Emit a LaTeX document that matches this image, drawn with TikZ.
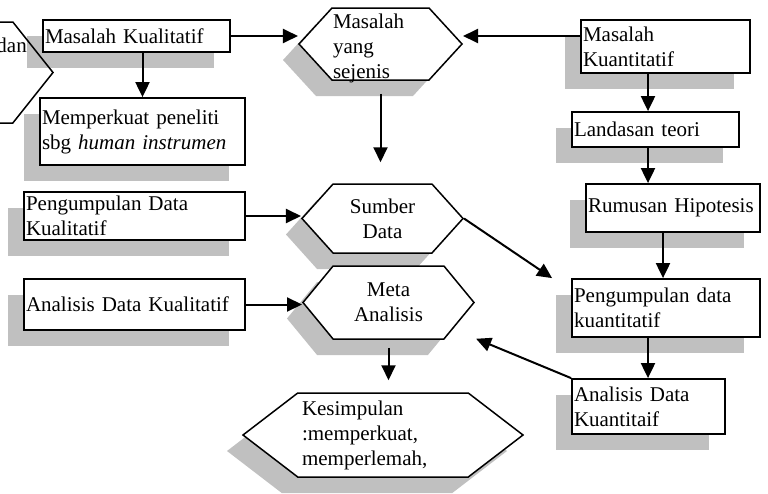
\documentclass[tikz,border=0pt]{standalone}
\usepackage{fontspec}
\setmainfont{Liberation Serif}
\usetikzlibrary{arrows.meta,shapes.symbols,shadows}
\definecolor{shadowgray}{RGB}{192,192,192}
\newcommand{\bodyfont}{\fontsize{21}{25}\selectfont}
\tikzset{
  boxshadow/.style = {general shadow={fill=shadowgray, shadow xshift=-16pt, shadow yshift=-16pt}},
  flowbox/.style = {rectangle, draw, line width=1.8pt, fill=white, boxshadow,
    inner xsep=2pt, inner ysep=0pt, align=left, font=\bodyfont},
  hexbox/.style = {signal, signal to=east and west, draw, line width=1.5pt,
    fill=white, inner sep=0pt, font=\bodyfont},
  flowarrow/.style = {line width=2pt, -{Triangle[length=15pt,width=14pt]}},
}

\begin{document}
\begin{tikzpicture}[x=1pt, y=-1pt]
\useasboundingbox (0,0) rectangle (768,493);

% Left column: kualitatif
\node[flowbox, minimum height=32pt, text width=183pt] (mkual) at (136.5,36) {Masalah Kualitatif};
\node[hexbox, fill=none, minimum width=200pt, minimum height=101pt, signal pointer angle=103] (dan) at (-47,72.5) {};
\node[font=\bodyfont, inner sep=0pt, anchor=base east] (dantext) at (27,52) {dan};
\node[flowbox, minimum height=67pt, text width=201pt] (memp) at (142.5,131.5) {Memperkuat peneliti\\sbg \textit{human instrumen}};
\node[flowbox, minimum height=48pt, text width=217pt] (pkual) at (134.5,216) {Pengumpulan Data\\Kualitatif};
\node[flowbox, minimum height=51pt, text width=217pt] (akual) at (134.5,304.5) {Analisis Data Kualitatif};

% Middle column: hexagons
\node[hexbox, boxshadow, minimum width=163pt, minimum height=72pt, signal pointer angle=95,
  text width=95pt, align=left, text depth=46pt] (msj) at (380.5,44) {Masalah\\yang\\sejenis};
\node[hexbox, boxshadow, minimum width=161pt, minimum height=69pt, signal pointer angle=96,
  align=center] (sumber) at (382.5,218.5) {Sumber\\Data};
\node[hexbox, boxshadow, minimum width=171pt, minimum height=73pt, signal pointer angle=101,
  align=center] (meta) at (388.5,302.5) {Meta\\Analisis};
\node[hexbox, boxshadow, minimum width=280pt, minimum height=84pt, signal pointer angle=75,
  text width=162pt, align=left] (kes) at (383,435) {Kesimpulan\\:memperkuat,\\memperlemah,};

% Right column: kuantitatif
\node[flowbox, minimum height=53pt, text width=165pt] (mkuant) at (665.5,46.5) {Masalah\\Kuantitatif};
\node[flowbox, minimum height=35pt, text width=163pt] (land) at (655.5,129.5) {Landasan teori};
\node[flowbox, minimum height=48pt, text width=170pt] (rumus) at (673,208) {Rumusan Hipotesis};
\node[flowbox, minimum height=58pt, text width=184pt] (pkuant) at (666,308) {Pengumpulan data\\kuantitatif};
\node[flowbox, minimum height=55pt, text width=149pt] (akuant) at (648.5,406.5) {Analisis Data\\Kuantitaif};

% Arrows
\coordinate (lajur1) at (648,0);
\coordinate (lajur2) at (663,0);
\draw[flowarrow] (mkual.east) -- (mkual.east -| msj.west);
\draw[flowarrow] (mkuant.west |- mkual.east) -- (msj.east |- mkual.east);
\draw[flowarrow] (mkual.south -| memp.north) -- (memp.north);
\draw[flowarrow, shorten <=13pt, shorten >=21pt] (msj.south) -- (msj.south |- sumber.north);
\draw[flowarrow] (pkual.east) -- (pkual.east -| sumber.west);
\draw[flowarrow] (akual.east) -- (akual.east -| meta.west);
\draw[flowarrow, shorten <=8pt, shorten >=12pt] (meta.south) -- (meta.south |- kes.north);
\draw[flowarrow] (mkuant.south -| lajur1) -- (land.north -| lajur1);
\draw[flowarrow] (land.south -| lajur1) -- (rumus.north -| lajur1);
\draw[flowarrow] (rumus.south -| lajur2) -- (pkuant.north -| lajur2);
\draw[flowarrow] (pkuant.south -| lajur1) -- (akuant.north -| lajur1);
\draw[flowarrow] (sumber.east) -- ([xshift=-19pt]pkuant.north west);
\draw[flowarrow, shorten >=25pt] (akuant.north west) -- (meta);

\end{tikzpicture}
\end{document}
